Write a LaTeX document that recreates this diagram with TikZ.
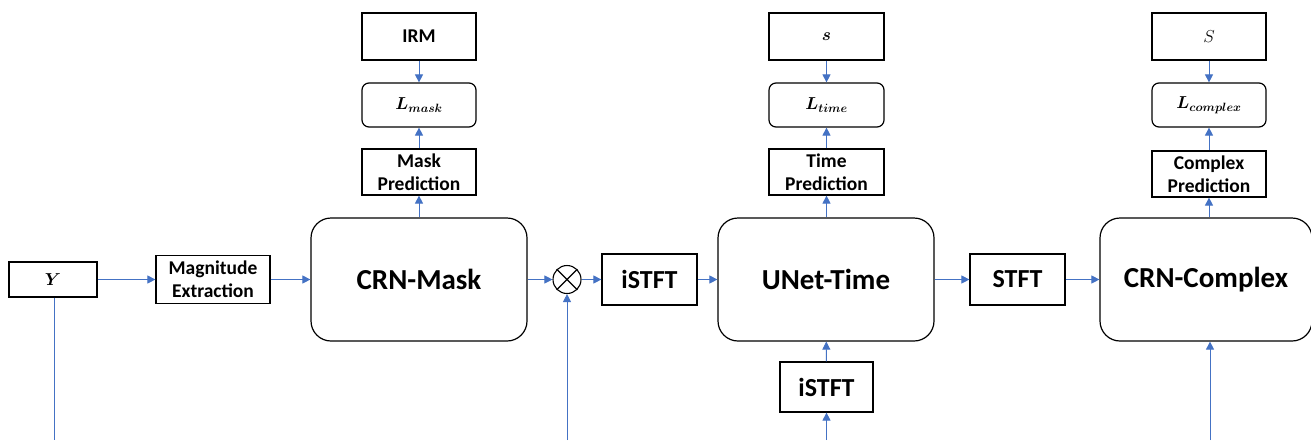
\documentclass[tikz,border=0pt]{standalone}
\usepackage{bm}
\usepackage{fontspec}
\setmainfont{Carlito}
\usetikzlibrary{arrows.meta}
\definecolor{flow}{HTML}{4472C4}
\tikzset{
  lbl/.style={font=\bfseries\fontsize{19.5}{23}\selectfont},
  mathlbl/.style={font=\fontsize{18.5}{22}\selectfont},
  boxed/.style={draw=black,line width=1.2pt,inner sep=0pt,align=center,lbl,
    minimum width=114pt,minimum height=46pt},
  lossboxed/.style={boxed,rounded corners=7pt,minimum height=44pt,mathlbl},
  blockboxed/.style={draw=black,line width=1.2pt,rounded corners=20pt,inner sep=0pt,
    minimum width=216pt,minimum height=123pt,font=\bfseries\fontsize{29}{33}\selectfont},
  tboxed/.style={draw=black,line width=1.2pt,inner sep=0pt,
    minimum width=95pt,minimum height=51pt,font=\bfseries\fontsize{26}{30}\selectfont},
  arr/.style={draw=flow,line width=0.9pt,-{Triangle[length=8pt,width=8pt]}},
  feed/.style={draw=flow,line width=0.9pt}
}
\begin{document}
\begin{tikzpicture}
\begin{scope}[x=1pt,y=-1pt]
\useasboundingbox (0,0) rectangle (1311,440);
\fill[white] (0,0) rectangle (1311,440);

% input and magnitude front end
\node[boxed,mathlbl,minimum width=88pt,minimum height=35pt] (Y) at (53,279.5) {$\bm{Y}$};
\node[boxed,minimum height=48pt] (mag) at (213,279.5) {Magnitude\\Extraction};

% first stage: masking network
\node[blockboxed] (crnm) at (419,279.5) {CRN-Mask};
\node[boxed] (mpred) at (419,172) {Mask\\Prediction};
\node[lossboxed] (lmask) at (419,105) {$\bm{L_{mask}}$};
\node[boxed,minimum height=47pt] (irm) at (419,36.5) {IRM};

% masking multiply
\node[draw=black,line width=1.1pt,circle,minimum size=28pt,inner sep=0pt] (mul) at (567,279.5) {};
\draw[line width=1.1pt] (mul.north east) -- (mul.south west) (mul.north west) -- (mul.south east);

% second stage: time-domain network
\node[tboxed] (istft) at (649.5,279.5) {iSTFT};
\node[blockboxed] (unet) at (826,279.5) {UNet-Time};
\node[boxed,minimum width=115pt] (tpred) at (826.5,172) {Time\\Prediction};
\node[lossboxed,minimum width=115pt] (ltime) at (826.5,105) {$\bm{L_{time}}$};
\node[boxed,mathlbl,minimum width=115pt,minimum height=47pt] (sref) at (826.5,36.5) {$\bm{s}$};
\node[tboxed,minimum width=93pt,minimum height=50pt] (istftb) at (826.5,387) {iSTFT};

% third stage: complex-domain network
\node[tboxed] (stft) at (1017.5,279.5) {STFT};
\node[blockboxed,minimum width=212pt] (crnc) at (1206,279.5) {CRN-Complex};
\node[boxed] (cpred) at (1209,174) {Complex\\Prediction};
\node[lossboxed] (lcomp) at (1209,105) {$\bm{L_{complex}}$};
\node[boxed,mathlbl,minimum height=47pt] (Sref) at (1209,36.5) {$S$};

% free ends of the feed lines at the lower edge
\coordinate (yb) at (54,440);
\coordinate (mb) at (567,440);
\coordinate (ib) at (826.5,440);
\coordinate (cb) at (1210,440);

% main signal path
\draw[arr] (Y) -- (mag);
\draw[arr] (mag) -- (crnm);
\draw[arr] (crnm) -- (mul);
\draw[arr] (mul) -- (istft);
\draw[arr] (istft) -- (unet);
\draw[arr] (unet) -- (stft);
\draw[arr] (stft) -- (crnc);

% prediction heads and losses
\draw[arr] (crnm.north -| mpred) -- (mpred);
\draw[arr] (mpred) -- (lmask);
\draw[arr] (irm) -- (lmask);
\draw[arr] (unet.north -| tpred) -- (tpred);
\draw[arr] (tpred) -- (ltime);
\draw[arr] (sref) -- (ltime);
\draw[arr] (crnc.north -| cpred) -- (cpred);
\draw[arr] (cpred) -- (lcomp);
\draw[arr] (Sref) -- (lcomp);

% feed lines from below
\draw[feed] (Y.south -| yb) -- (yb);
\draw[arr] (mb) -- (mul);
\draw[arr] (ib) -- (istftb);
\draw[arr] (istftb) -- (unet);
\draw[arr] (cb) -- (cb |- crnc.south);
\end{scope}
\end{tikzpicture}
\end{document}
